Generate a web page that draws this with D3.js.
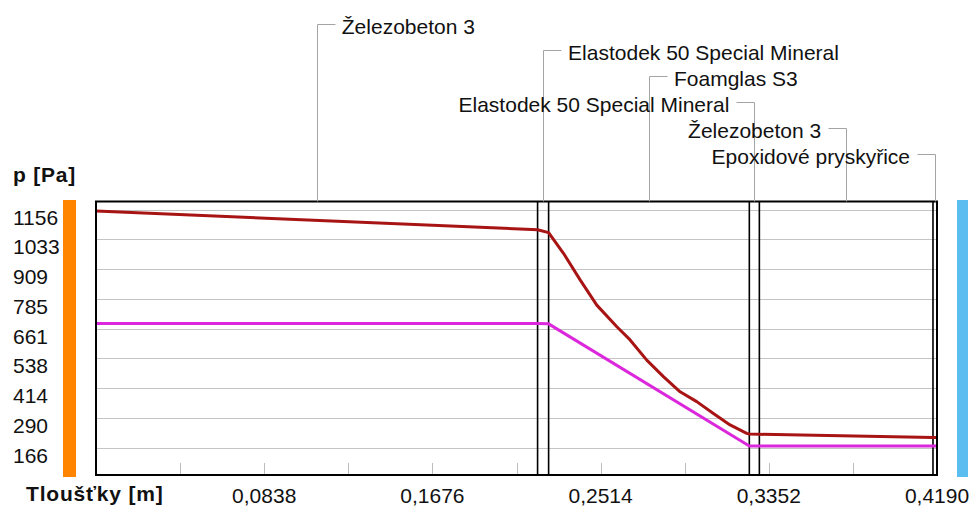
<!DOCTYPE html>
<html>
<head>
<meta charset="utf-8">
<script src="https://cdn.jsdelivr.net/npm/d3@7"></script>
<style>
  body { margin: 0; background: #fff; }
  svg { display: block; font-family: 'Liberation Sans', Arial, sans-serif; }
  .grid line { stroke: #c4c4c4; stroke-width: 1; }
  .tickmark { stroke: #bcbcbc; stroke-width: 1; }
  .label { font-size: 21px; fill: #111; }
  .title { font-size: 21px; font-weight: bold; letter-spacing: 0.8px; fill: #111; }
  .leader { stroke: #a4a4a4; stroke-width: 1; fill: none; }
  .layer { stroke: #000; stroke-width: 1.6; }
</style>
</head>
<body>
<svg id="chart" width="974" height="508"></svg>
<script>
// vrstvy konstrukce (od interiéru)
const layerNames = [
  'Železobeton 3',
  'Elastodek 50 Special Mineral',
  'Foamglas S3',
  'Elastodek 50 Special Mineral',
  'Železobeton 3',
  'Epoxidové pryskyřice',
];
const layerThickness = [0.22, 0.0055, 0.1, 0.005, 0.0865, 0.002];

// nasycený tlak vodní páry (tmavě červená)
const satDepth = [
  0, 0.22, 0.2255, 0.2329, 0.2412, 0.2495, 0.2595, 0.2661, 0.2744, 0.2827,
  0.291, 0.2993, 0.3076, 0.3159, 0.3242, 0.3255, 0.3305, 0.417, 0.419,
];
const satPressure = [
  1151, 1073, 1061, 975, 864, 759, 669, 614, 530, 461,
  398, 357, 308, 260, 225, 222, 221, 208, 208,
];

// částečný tlak vodní páry (fialová)
const partDepth = [0, 0.22, 0.2255, 0.3255, 0.3305, 0.417, 0.419];
const partPressure = [682, 682, 681, 172, 172, 172, 172];

// popisky os
const yTicks = [166, 290, 414, 538, 661, 785, 909, 1033, 1156];
const xTicks = [0.0838, 0.1676, 0.2514, 0.3352, 0.419];
const xTickLabels = ['0,0838', '0,1676', '0,2514', '0,3352', '0,4190'];
const minorStep = 0.0419;

const W = 974;
const plotTop = 201.5;
const plotBottom = 475;

const svg = d3.select('#chart');

const total = d3.sum(layerThickness);
const xScale = d3.scaleLinear().domain([0, total]).range([96, 937]);
const yScale = d3.scaleLinear().domain([166, 1156]).range([447.5, 209.8]);

// barevné pruhy po stranách
svg.append('rect')
  .attr('x', 63).attr('y', 200).attr('width', 13).attr('height', 277)
  .attr('fill', '#ff8400');
svg.append('rect')
  .attr('x', 957).attr('y', 200).attr('width', 11).attr('height', 277)
  .attr('fill', '#5cbdf0');

// vodorovná mřížka
svg.append('g')
  .attr('class', 'grid')
  .selectAll('line')
  .data(yTicks)
  .join('line')
  .attr('x1', xScale(0))
  .attr('x2', xScale(total))
  .attr('y1', d => Math.round(yScale(d)) + 0.5)
  .attr('y2', d => Math.round(yScale(d)) + 0.5);

// malé značky dole
svg.append('g')
  .selectAll('line')
  .data(d3.range(minorStep, total - 1e-6, minorStep))
  .join('line')
  .attr('class', 'tickmark')
  .attr('x1', d => Math.round(xScale(d)) + 0.5)
  .attr('x2', d => Math.round(xScale(d)) + 0.5)
  .attr('y1', plotBottom - 12)
  .attr('y2', plotBottom);

// hranice vrstev
const bounds = d3.cumsum(layerThickness).slice(0, -1);
svg.append('g')
  .selectAll('line')
  .data(bounds)
  .join('line')
  .attr('class', 'layer')
  .attr('x1', d => xScale(d))
  .attr('x2', d => xScale(d))
  .attr('y1', plotTop)
  .attr('y2', plotBottom);

// průběhy tlaků
const line = d3.line()
  .x(d => xScale(d[0]))
  .y(d => yScale(d[1]));

svg.append('path')
  .datum(d3.zip(satDepth, satPressure))
  .attr('d', line)
  .attr('fill', 'none')
  .attr('stroke', '#a81414')
  .attr('stroke-width', 3)
  .attr('stroke-linejoin', 'round');

svg.append('path')
  .datum(d3.zip(partDepth, partPressure))
  .attr('d', line)
  .attr('fill', 'none')
  .attr('stroke', '#dc28dc')
  .attr('stroke-width', 3)
  .attr('stroke-linejoin', 'round');

// rámeček
svg.append('rect')
  .attr('x', xScale(0))
  .attr('y', plotTop)
  .attr('width', xScale(total) - xScale(0))
  .attr('height', plotBottom - plotTop)
  .attr('fill', 'none')
  .attr('stroke', '#000')
  .attr('stroke-width', 2);

// osa y
svg.append('g')
  .selectAll('text')
  .data(yTicks)
  .join('text')
  .attr('class', 'label')
  .attr('x', 13)
  .attr('y', d => yScale(d) + 15)
  .text(d => d);

svg.append('text')
  .attr('class', 'title')
  .attr('x', 13)
  .attr('y', 182)
  .text('p [Pa]');

// osa x
svg.append('g')
  .selectAll('text')
  .data(xTicks)
  .join('text')
  .attr('class', 'label')
  .attr('x', d => xScale(d))
  .attr('y', 503)
  .attr('text-anchor', 'middle')
  .text((d, i) => xTickLabels[i]);

svg.append('text')
  .attr('class', 'title')
  .attr('x', 26)
  .attr('y', 501)
  .text('Tloušťky [m]');

// popisky vrstev s vynášecími čarami
const starts = [0, ...bounds];
layerNames.forEach((name, i) => {
  const mid = xScale(starts[i] + layerThickness[i] / 2);
  const ly = 24 + i * 26;
  const txt = svg.append('text')
    .attr('class', 'label')
    .attr('y', ly + 9.5)
    .text(name);
  const tw = txt.node().getComputedTextLength();
  const right = mid + 25 + tw <= W;
  const mx = Math.round(mid) + 0.5;
  const hx = right ? mx + 18 : mx - 18;
  txt
    .attr('x', right ? mid + 25 : mid - 25)
    .attr('text-anchor', right ? 'start' : 'end');
  svg.append('path')
    .attr('class', 'leader')
    .attr('d', `M${hx},${ly + 0.5}H${mx}V${plotTop}`);
});
</script>
</body>
</html>
